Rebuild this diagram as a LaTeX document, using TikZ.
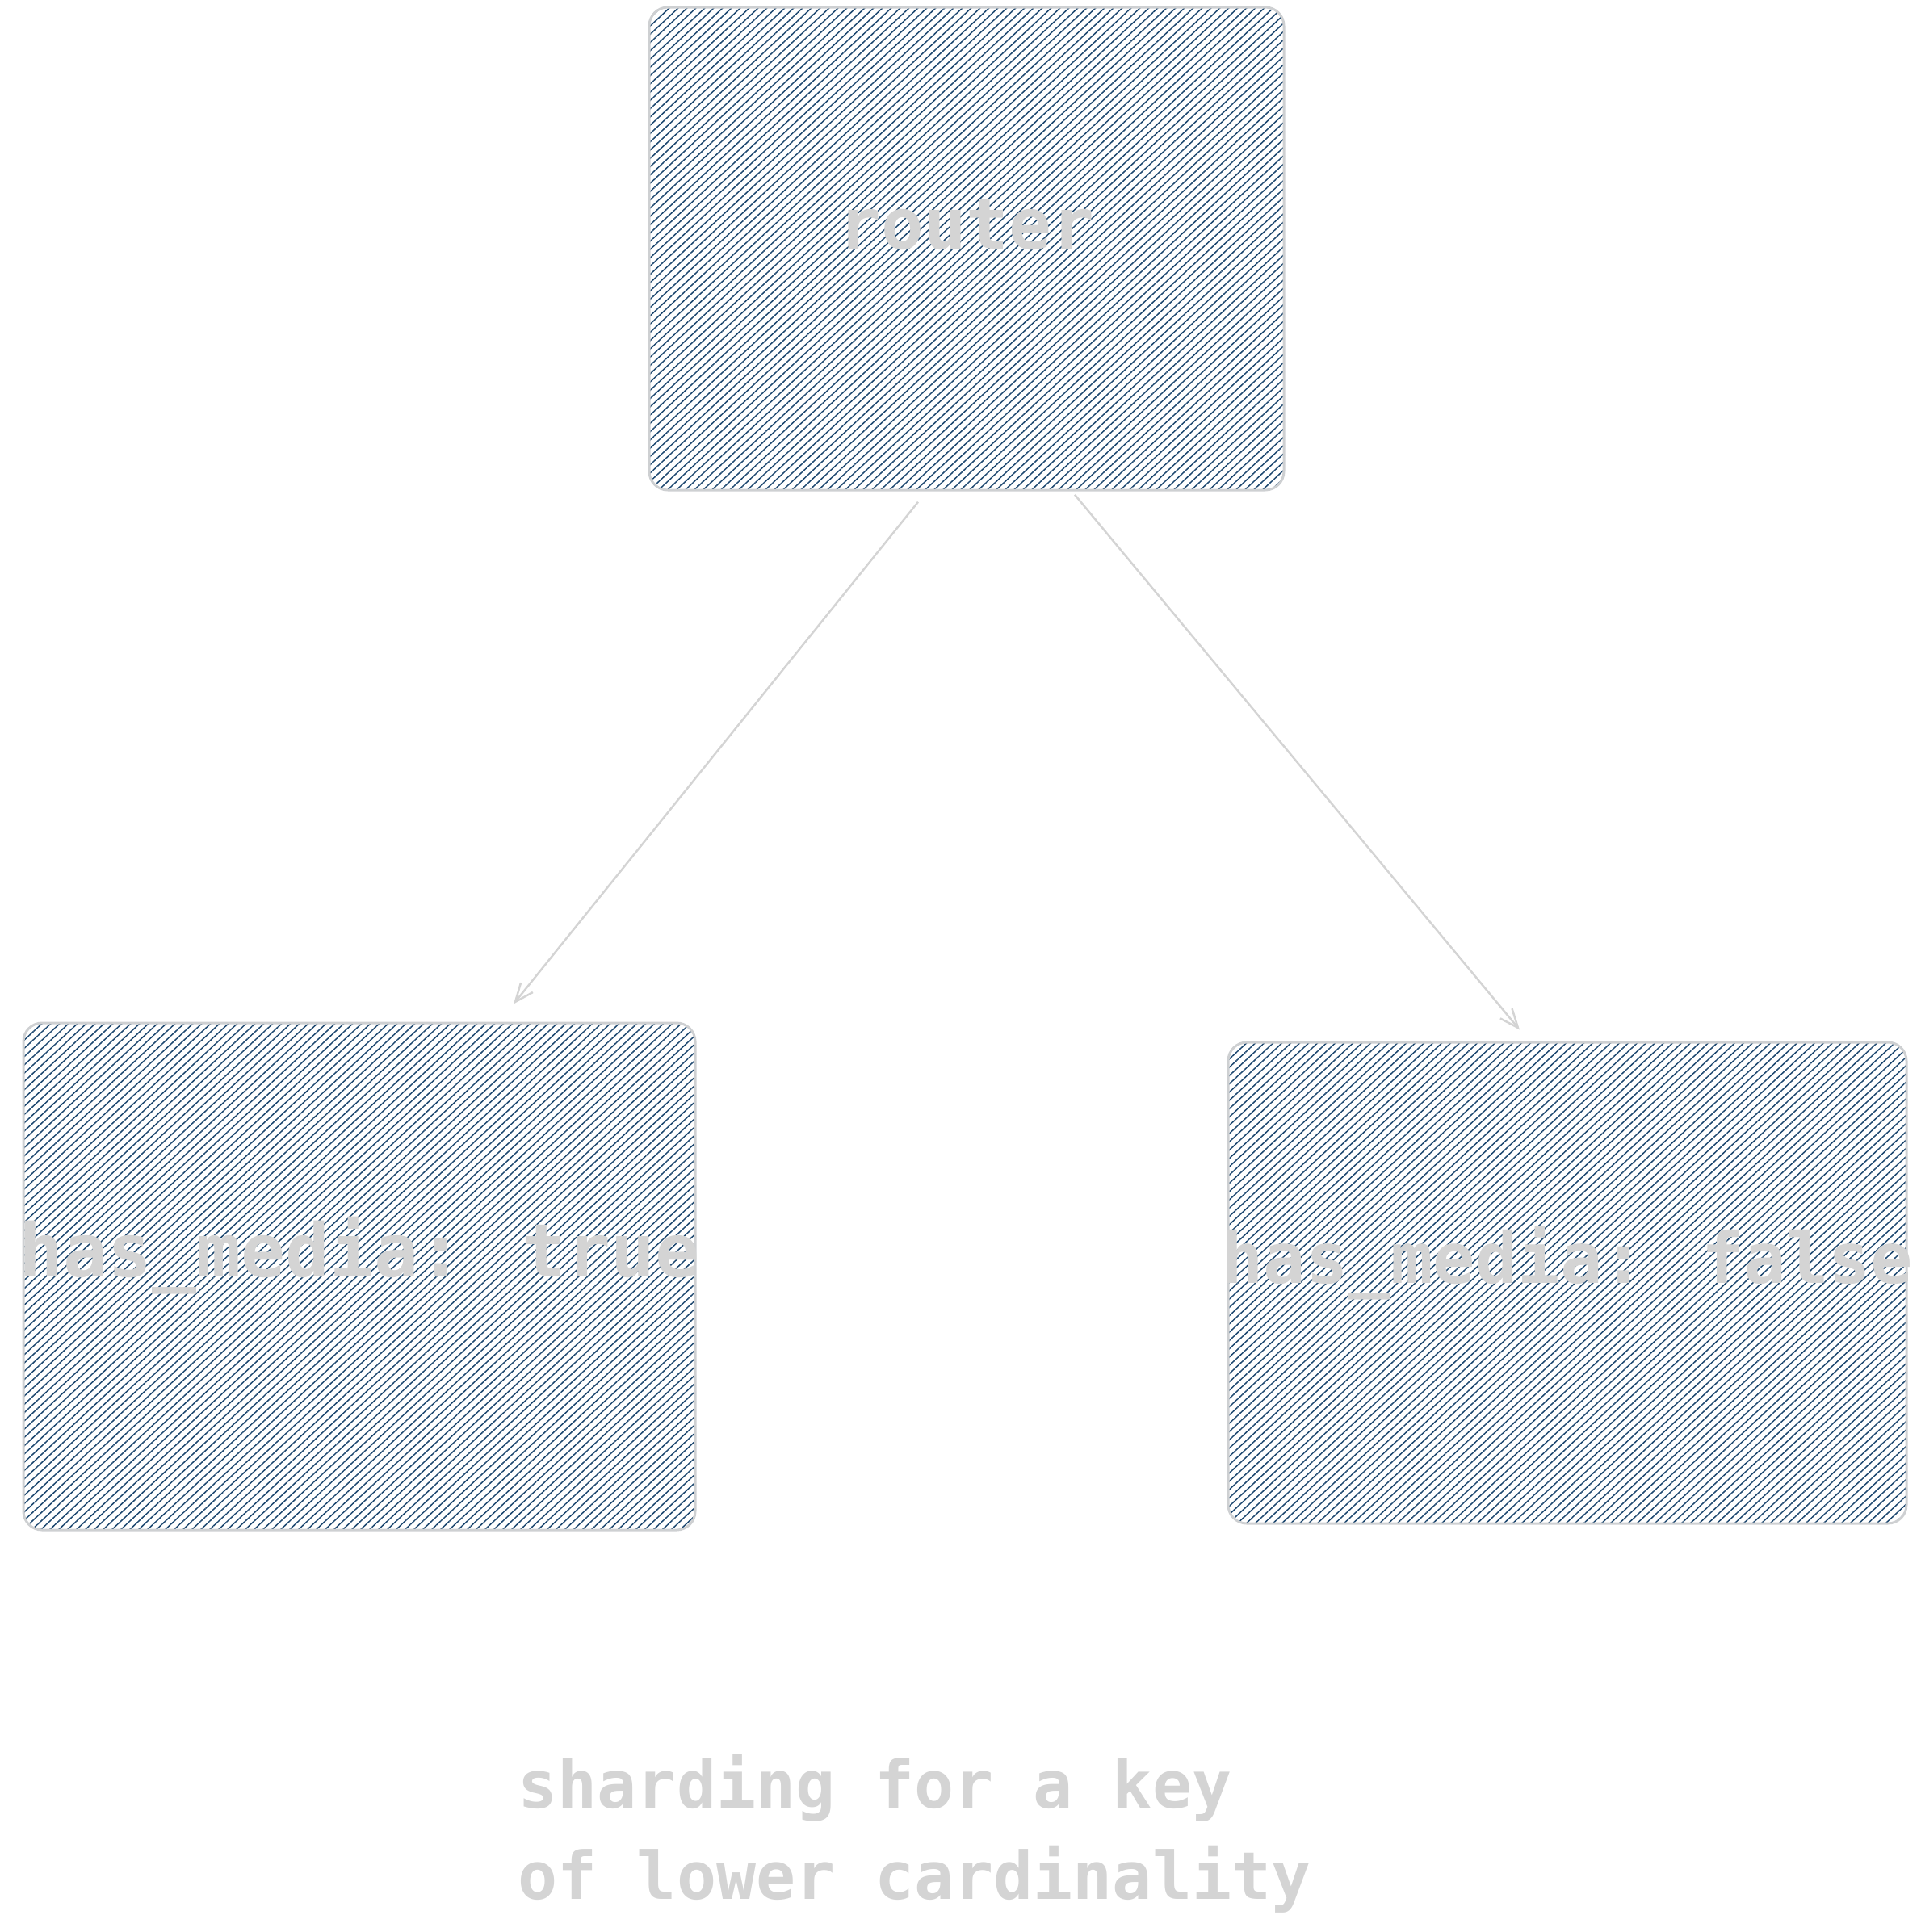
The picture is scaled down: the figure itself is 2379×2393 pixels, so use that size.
\documentclass[tikz,border=0pt]{standalone}
\usepackage{fontspec}
\usepackage{tikz}
\usetikzlibrary{arrows.meta, positioning, calc, patterns.meta}
\usepackage{xcolor}
\newfontfamily\sketchmono{DejaVu Sans Mono}
\definecolor{hatch}{RGB}{30,72,112}
\definecolor{boxline}{RGB}{206,208,210}
\definecolor{arrowline}{RGB}{212,212,212}
\definecolor{faintlabel}{RGB}{212,212,212}

\begin{document}
\begin{tikzpicture}[x=0.1mm, y=-0.1mm,
  box/.style={draw=boxline, line width=0.3mm, rounded corners=2.3mm, inner sep=0pt,
              pattern={Lines[angle=43, distance=0.75mm, line width=0.15mm]}, pattern color=hatch,
              text=faintlabel, text height=4mm, text depth=4mm},
  a/.style={-{Straight Barb[length=2.3mm, width=1.9mm]}, line width=0.25mm, draw=arrowline},
  captxt/.style={text=faintlabel, align=left, inner sep=0pt,
              font=\sketchmono\bfseries\fontsize{23.2pt}{31.9pt}\selectfont}]
  \useasboundingbox (0,0) rectangle (2379,2393);
  % ---- the router on top, one shard per value of the key below it
  \node[box, minimum width=78.6mm, minimum height=59.8mm,
        font=\sketchmono\bfseries\fontsize{25pt}{30pt}\selectfont] (router) at (1197,308) {router};
  \node[box, minimum width=83.2mm, minimum height=62.8mm,
        font=\sketchmono\bfseries\fontsize{26pt}{31pt}\selectfont] (shardT) at (445,1581)
        {\makebox[0pt]{has\_media: true}};
  \node[box, minimum width=84.0mm, minimum height=59.6mm,
        font=\sketchmono\bfseries\fontsize{24.8pt}{30pt}\selectfont] (shardF) at (1941,1589)
        {\makebox[0pt]{has\_media: false}};
  \draw[a] ($(router.south)+(-60,14)$) -- ($(shardT.north)+(191,-22)$);
  \draw[a] ($(router.south)+(134,5)$)  -- ($(shardF.north)+(-59,-14)$);
  % ---- caption (base is the baseline of its last line)
  \node[captxt, anchor=base west] (caption) at (641,2352) {sharding for a key\\of lower cardinality};
\end{tikzpicture}
\end{document}
